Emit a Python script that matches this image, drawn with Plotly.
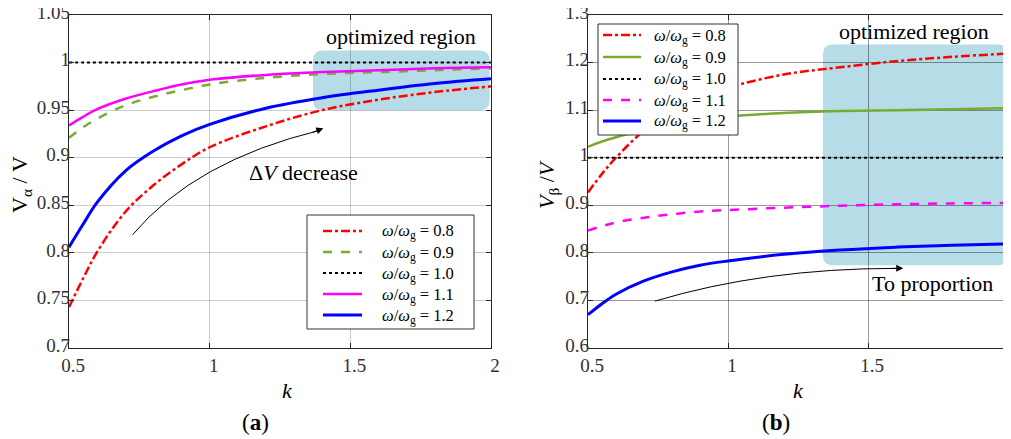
import plotly.graph_objects as go

# ---------------- data ----------------
k_vals = [0.5, 0.55, 0.6, 0.7, 0.8, 0.9, 1.0, 1.2, 1.4, 1.6, 1.8, 2.0]

# panel (a): V_alpha / V
a_08 = [0.743, 0.773, 0.801, 0.843, 0.871, 0.893, 0.911, 0.933, 0.950, 0.961, 0.969, 0.975]
a_09 = [0.921, 0.932, 0.941, 0.955, 0.964, 0.971, 0.977, 0.984, 0.988, 0.990, 0.992, 0.994]
a_10 = [1.0, 1.0, 1.0, 1.0, 1.0, 1.0, 1.0, 1.0, 1.0, 1.0, 1.0, 1.0]
a_11 = [0.934, 0.943, 0.951, 0.962, 0.970, 0.977, 0.982, 0.987, 0.990, 0.992, 0.994, 0.995]
a_12 = [0.806, 0.830, 0.853, 0.886, 0.907, 0.923, 0.935, 0.952, 0.963, 0.971, 0.978, 0.983]

# panel (b): V_beta / V
b_08 = [0.927, 0.966, 1.000, 1.057, 1.095, 1.125, 1.147, 1.175, 1.190, 1.203, 1.212, 1.219]
b_09 = [1.023, 1.034, 1.043, 1.058, 1.069, 1.078, 1.086, 1.094, 1.098, 1.100, 1.102, 1.104]
b_10 = [1.0, 1.0, 1.0, 1.0, 1.0, 1.0, 1.0, 1.0, 1.0, 1.0, 1.0, 1.0]
b_11 = [0.847, 0.856, 0.864, 0.874, 0.881, 0.887, 0.890, 0.895, 0.899, 0.902, 0.904, 0.905]
b_12 = [0.670, 0.693, 0.713, 0.741, 0.760, 0.774, 0.783, 0.797, 0.806, 0.812, 0.816, 0.819]

ratio_labels = ["0.8", "0.9", "1.0", "1.1", "1.2"]

x_ticks = [0.5, 1, 1.5, 2]
x_ticktext = ["0.5", "1", "1.5", "2"]
ya_ticks = [0.7, 0.75, 0.8, 0.85, 0.9, 0.95, 1.0, 1.05]
ya_ticktext = ["0.7", "0.75", "0.8", "0.85", "0.9", "0.95", "1", "1.05"]
yb_ticks = [0.6, 0.7, 0.8, 0.9, 1.0, 1.1, 1.2, 1.3]
yb_ticktext = ["0.6", "0.7", "0.8", "0.9", "1", "1.1", "1.2", "1.3"]

# optimized regions (k range, ratio range)
region_a = [1.367, 1.995, 0.950, 1.0126]
region_b = [1.339, 1.999, 0.774, 1.238]

FONT = "Liberation Serif, Times New Roman, serif"
RED, GREEN, BLACK, MAG, BLUE = "#ff0000", "#77ac30", "#000000", "#ff00ff", "#0000ff"

W, H = 1011, 439
OX, OY = 8, 8  # page offset of the plot div


def px(x):
    return (x - OX) / W


def py(y):
    return (H - (y - OY)) / H


def lbl(r):
    return "<i>ω</i>/<i>ω</i><sub>g</sub> = " + r


fig = go.Figure()

styles_a = [
    (a_08, RED, "dashdot", 2.5),
    (a_09, GREEN, "dash", 2.5),
    (a_10, BLACK, "dot", 2),
    (a_11, MAG, "solid", 2.5),
    (a_12, BLUE, "solid", 3),
]
styles_b = [
    (b_08, RED, "dashdot", 2.5),
    (b_09, GREEN, "solid", 2.5),
    (b_10, BLACK, "dot", 2),
    (b_11, MAG, "dash", 2.5),
    (b_12, BLUE, "solid", 3),
]

for (vals, col, dash, w), r in zip(styles_a, ratio_labels):
    fig.add_trace(go.Scatter(x=k_vals, y=vals, mode="lines", name=lbl(r), showlegend=False,
                             line=dict(color=col, dash=dash, width=w, shape="spline", smoothing=1.0),
                             xaxis="x", yaxis="y"))
for (vals, col, dash, w), r in zip(styles_b, ratio_labels):
    fig.add_trace(go.Scatter(x=k_vals, y=vals, mode="lines", name=lbl(r), showlegend=False,
                             line=dict(color=col, dash=dash, width=w, shape="spline", smoothing=1.0),
                             xaxis="x2", yaxis="y2"))


def rounded(x0, x1, y0, y1, rx, ry):
    return (f"M {x0+rx},{y0} L {x1-rx},{y0} Q {x1},{y0} {x1},{y0+ry} "
            f"L {x1},{y1-ry} Q {x1},{y1} {x1-rx},{y1} L {x0+rx},{y1} "
            f"Q {x0},{y1} {x0},{y1-ry} L {x0},{y0+ry} Q {x0},{y0} {x0+rx},{y0} Z")


shapes = [
    dict(type="path", xref="x", yref="y", layer="below",
         path=rounded(region_a[0], region_a[1], region_a[2], region_a[3], 0.036, 0.0105),
         fillcolor="#b6dce7", line=dict(width=0)),
    dict(type="path", xref="x2", yref="y2", layer="below",
         path=rounded(region_b[0], region_b[1], region_b[2], region_b[3], 0.036, 0.021),
         fillcolor="#b6dce7", line=dict(width=0)),
    # curved arrow bodies
    dict(type="path", xref="x", yref="y", layer="above",
         path="M 0.726,0.819 Q 0.947,0.897 1.395,0.929",
         line=dict(color="black", width=1)),
    dict(type="path", xref="x2", yref="y2", layer="above",
         path="M 0.739,0.6985 Q 1.129,0.7674 1.60,0.7674",
         line=dict(color="black", width=1)),
]

tf = dict(family=FONT, size=19, color="#333333")
big = dict(family=FONT, size=22, color="black")
leg_font = dict(family=FONT, size=16.5, color="black")

ann = [
    # arrow heads
    dict(x=1.404, y=0.931, ax=1.36, ay=0.926, xref="x", yref="y", axref="x", ayref="y",
         showarrow=True, arrowhead=2, arrowsize=1.4, arrowwidth=1, arrowcolor="black", text=""),
    dict(x=1.626, y=0.7674, ax=1.58, ay=0.7674, xref="x2", yref="y2", axref="x2", ayref="y2",
         showarrow=True, arrowhead=2, arrowsize=1.4, arrowwidth=1, arrowcolor="black", text=""),
    # texts
    dict(x=1.68, y=1.0273, xref="x", yref="y", text="optimized region", showarrow=False, font=big),
    dict(x=1.664, y=1.266, xref="x2", yref="y2", text="optimized region", showarrow=False, font=big),
    dict(x=1.332, y=0.884, xref="x", yref="y", text="Δ<i>V</i> decrease", showarrow=False, font=big),
    dict(x=1.729, y=0.735, xref="x2", yref="y2", text="To proportion", showarrow=False, font=big),
    # axis titles
    dict(x=px(21), y=py(185), xref="paper", yref="paper", xanchor="center", yanchor="middle",
         text="V<sub>α</sub> / V", textangle=-90, showarrow=False, font=big),
    dict(x=px(548), y=py(185), xref="paper", yref="paper", xanchor="center", yanchor="middle",
         text="<i>V</i><sub>β</sub> /<i>V</i>", textangle=-90, showarrow=False, font=big),
    dict(x=px(287), y=py(390), xref="paper", yref="paper", xanchor="center", yanchor="middle",
         text="<i>k</i>", showarrow=False, font=big),
    dict(x=px(798), y=py(390), xref="paper", yref="paper", xanchor="center", yanchor="middle",
         text="<i>k</i>", showarrow=False, font=big),
    dict(x=px(255), y=py(422), xref="paper", yref="paper", xanchor="center", yanchor="middle",
         text="(<b>a</b>)", showarrow=False, font=dict(family=FONT, size=23, color="black")),
    dict(x=px(776), y=py(422), xref="paper", yref="paper", xanchor="center", yanchor="middle",
         text="(<b>b</b>)", showarrow=False, font=dict(family=FONT, size=23, color="black")),
]

# legends (box, line samples, labels) placed in page pixels
legend_specs = [
    # (box x0, x1, y0, y1, line x0, x1, text x, entry ys, styles)
    (307, 474, 215, 329, 323, 362, 380, [231, 252, 273, 294, 315], styles_a),
    (598, 738, 24, 135, 603, 641, 652, [35, 57, 79, 100, 121], styles_b),
]
for bx0, bx1, by0, by1, lx0, lx1, tx, ys, sty in legend_specs:
    shapes.append(dict(type="rect", xref="paper", yref="paper", layer="above",
                       x0=px(bx0), x1=px(bx1), y0=py(by1), y1=py(by0),
                       fillcolor="white", line=dict(color="#333333", width=1)))
    for yy, (vals, col, dash, w), r in zip(ys, sty, ratio_labels):
        shapes.append(dict(type="line", xref="paper", yref="paper", layer="above",
                           x0=px(lx0), x1=px(lx1), y0=py(yy), y1=py(yy),
                           line=dict(color=col, dash=dash, width=w)))
        ann.append(dict(x=px(tx), y=py(yy + 1), xref="paper", yref="paper", xanchor="left",
                        yanchor="middle", text=lbl(r), showarrow=False, font=leg_font))

ydom = [py(348), py(15)]
common_x = dict(range=[0.5, 2], tickvals=x_ticks, ticktext=x_ticktext, ticks="inside", ticklen=5,
                showline=True, mirror="ticks", linecolor="#262626", linewidth=1.2, automargin=False,
                tickfont=tf, zeroline=False, showgrid=True, tickcolor="#262626",
                ticklabeloverflow="allow", ticklabelshift=4)
common_y = dict(ticks="inside", ticklen=5, showline=True, mirror="ticks", linecolor="#262626",
                linewidth=1.2, tickfont=tf, zeroline=False, showgrid=True, tickcolor="#262626",
                automargin=False, ticklabeloverflow="allow", ticklabelstandoff=-6, ticklabelshift=-3)

fig.update_layout(
    width=W, height=H, autosize=False, showlegend=False,
    margin=dict(l=0, r=0, t=0, b=0, pad=0, autoexpand=False),
    paper_bgcolor="white", plot_bgcolor="white",
    font=dict(family=FONT, color="black"),
    xaxis=dict(domain=[px(69), px(491)], anchor="y", gridcolor="rgba(0,0,0,0.2)", **common_x),
    yaxis=dict(domain=ydom, anchor="x", range=[0.7, 1.05], tickvals=ya_ticks, ticktext=ya_ticktext,
               gridcolor="rgba(0,0,0,0.2)", **common_y),
    xaxis2=dict(domain=[px(588), px(1008)], anchor="y2", gridcolor="rgba(0,0,0,0.4)", **common_x),
    yaxis2=dict(domain=ydom, anchor="x2", range=[0.6, 1.3], tickvals=yb_ticks, ticktext=yb_ticktext,
                gridcolor="rgba(0,0,0,0.4)", **common_y),
    shapes=shapes,
    annotations=ann,
)

fig.write_html("out.html")
